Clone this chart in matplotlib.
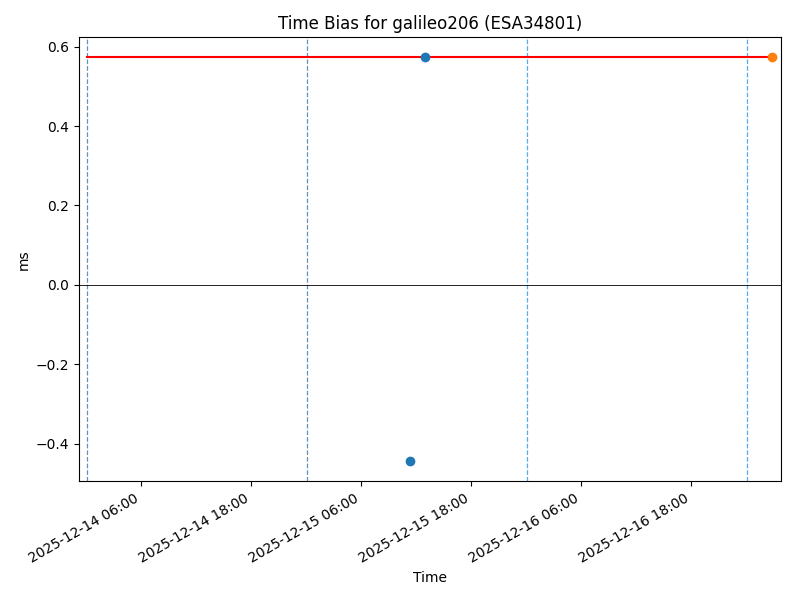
import matplotlib
matplotlib.use("Agg")
import matplotlib.pyplot as plt
import matplotlib.dates as mdates
from datetime import datetime

# data
blue_times = [datetime(2025, 12, 15, 11, 20), datetime(2025, 12, 15, 13, 0)]
blue_vals = [-0.444, 0.573]
orange_times = [datetime(2025, 12, 17, 2, 50)]
orange_vals = [0.573]
bias_level = 0.573
bias_start = datetime(2025, 12, 14, 0, 8)
day_lines = [datetime(2025, 12, 14, 0, 8), datetime(2025, 12, 15, 0, 8),
             datetime(2025, 12, 16, 0, 8), datetime(2025, 12, 17, 0, 8)]
day_colors = ["#2b6ea8", "#2b6ea8", "#1a8ff0", "#1a8ff0"]
xlim = (datetime(2025, 12, 13, 23, 14), datetime(2025, 12, 17, 3, 48))

fig, ax = plt.subplots(figsize=(8, 6), dpi=100)
for d, c in zip(day_lines, day_colors):
    ax.axvline(d, color=c, linestyle="--", linewidth=0.9, alpha=0.75)
ax.axhline(0, color="black", linewidth=0.6)
ax.plot([bias_start, orange_times[0]], [bias_level, bias_level], color="red", linewidth=1.5)
ax.plot(blue_times, blue_vals, "o", color="C0")
ax.plot(orange_times, orange_vals, "o", color="C1")

ax.set_xlim(*xlim)
ax.xaxis.set_major_locator(mdates.HourLocator(byhour=[6, 18]))
ax.xaxis.set_major_formatter(mdates.DateFormatter("%Y-%m-%d %H:%M"))
ax.set_title("Time Bias for galileo206 (ESA34801)")
ax.set_xlabel("Time")
ax.set_ylabel("ms")
fig.autofmt_xdate()
fig.subplots_adjust(left=0.099, right=0.976, top=0.938, bottom=0.198)
fig.savefig("out.png", dpi=100)
